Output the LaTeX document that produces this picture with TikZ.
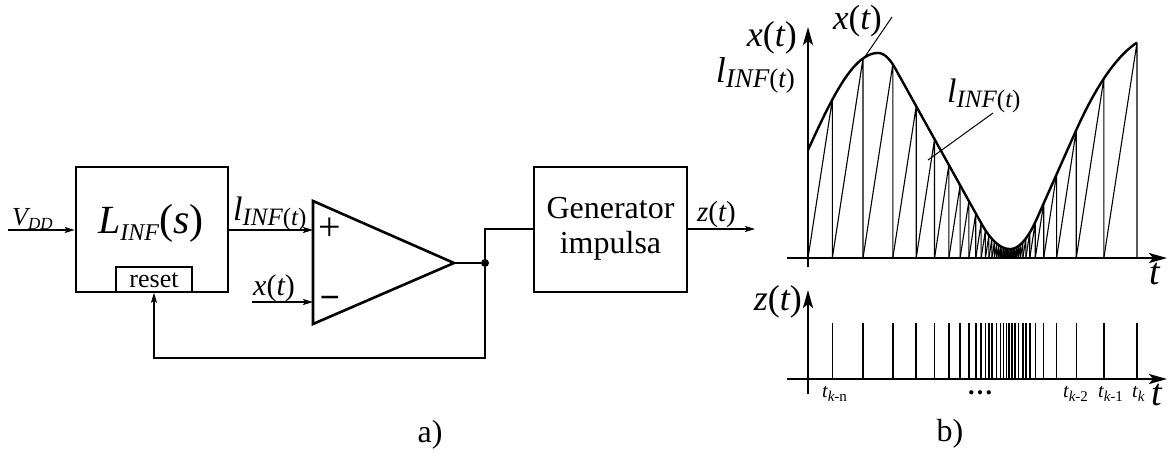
\documentclass[tikz,border=0pt]{standalone}
\usepackage{fontspec}
\setmainfont{Liberation Serif}
\usetikzlibrary{arrows.meta}
\newcommand\fs[1]{\fontsize{#1pt}{#1pt}\selectfont}
\newcommand\lINFlab[3]{{\fs{#1}\itshape l}\raisebox{-#3pt}{\fs{#2}\itshape INF\upshape(\itshape t\upshape)}}
\newcommand\fnlab[3]{{\fs{#1}\itshape #3\upshape(\itshape t\upshape)}}
\newcommand\tick[2]{{\fs{20}\itshape t}\raisebox{-4pt}{\fs{15}#1}}
\pgfmathdeclarefunction{hx}{1}{%
  \begingroup
  \pgfmathparse{#1}\let\hxt\pgfmathresult
  \ifdim\hxt pt<878pt
    \pgfmathparse{108+97*cos(90*(878-\hxt)/70)}%
  \else\ifdim\hxt pt<895.3pt
    \pgfmathparse{205-0.052*(\hxt-878)*(\hxt-878)}%
  \else\ifdim\hxt pt<981.1pt
    \pgfmathparse{73+1.8*(960-\hxt)}%
  \else\ifdim\hxt pt<1010pt
    \pgfmathparse{9+0.0311*(1010-\hxt)*(1010-\hxt)}%
  \else\ifdim\hxt pt<1036.8pt
    \pgfmathparse{9+0.042*(\hxt-1010)*(\hxt-1010)}%
  \else\ifdim\hxt pt<1075pt
    \pgfmathparse{39.2+2.25*(\hxt-1036.8)}%
  \else
    \pgfmathparse{125.15+2.25*(\hxt-1075)-0.0128*(\hxt-1075)*(\hxt-1075)}%
  \fi\fi\fi\fi\fi\fi
  \pgfmathsmuggle\pgfmathresult
  \endgroup}
\begin{document}
\begin{tikzpicture}[x=1pt,y=-1pt,
  blk/.style={draw,line width=2.6pt,inner sep=0pt},
  conn/.style={line width=1.4pt},
  arr/.style={conn,-{Stealth[length=10pt,width=6pt,inset=2pt]}},
  axisarr/.style={line width=2.4pt,-{Stealth[length=18pt,width=10pt,inset=4pt]}},
  curve/.style={line width=2.4pt,line join=round},
  saw/.style={line width=1.1pt},
  pulse/.style={line width=1.5pt},
  lead/.style={line width=1pt},
  lbl/.style={inner sep=0pt}]
\useasboundingbox (0,0) rectangle (1171,455);
% ---------------- block diagram a)
\node[blk,minimum width=152pt,minimum height=125pt] (L) at (152,229.5) {};
\node[lbl,anchor=base west] (Ltxt) at (98,233) {{\fs{40}\itshape L}\raisebox{-7pt}{\fs{24}\itshape INF}{\fs{42}(\itshape s\upshape)}};
\node[draw,line width=1.6pt,minimum width=76pt,minimum height=25pt,inner sep=0pt] (reset) at (154,279.5) {};
\node[lbl,anchor=base] (resettxt) at (154,287) {\fs{26}reset};
\coordinate (vin) at (8,230);
\node[lbl,anchor=base west] (vdd) at (12,225) {{\fs{26}\itshape V}\raisebox{-4pt}{\fs{17}\itshape DD}};
\draw[arr] (vin) -- (vin -| L.west);
% comparator
\coordinate (cp) at (313,230);
\coordinate (cm) at (313,302);
\coordinate (tip) at (454,263);
\draw[line width=2.6pt,line join=miter] (313,201) -- (tip) -- (313,324) -- cycle;
\node[lbl] (plus) at (330,229) {\fs{40}+};
\node[lbl] (minus) at (330,303) {\fs{36}\bfseries\symbol{"2212}};
\draw[arr] (L.east |- cp) -- (cp);
\node[lbl,anchor=base west] (ltop) at (233,220) {\lINFlab{34}{25}{5}};
\coordinate (xin) at (252,302);
\draw[arr] (xin) -- (cm);
\node[lbl,anchor=base west] (xlab) at (253,295) {\fnlab{30}{}{x}};
% junction
\node[circle,fill,inner sep=0pt,minimum size=8pt] (dot) at (485,263) {};
\node[blk,minimum width=153pt,minimum height=125pt] (G) at (610.5,229.5) {};
\node[lbl,anchor=base] (g1) at (610.5,218) {\fs{32}Generator};
\node[lbl,anchor=base] (g2) at (610.5,253) {\fs{32}impulsa};
\draw[conn] (tip) -- (dot);
\draw[conn] (dot) |- (G.west |- 0,229);
\coordinate (zout) at (755,229);
\draw[arr] (G.east |- zout) -- (zout);
\node[lbl,anchor=base west] (zlab) at (697,221) {\fnlab{29}{}{z}};
\draw[arr] (dot) -- (485,358) -| (reset.south);
\node[lbl,anchor=base] (alab) at (430,442) {\fs{32}a)};
% ---------------- plots b)
\draw[axisarr] (787,258) -- (1167,258);
\draw[axisarr] (808,267) -- (808,27);
\draw[axisarr] (787,379) -- (1167,379);
\draw[axisarr] (808,394) -- (808,290);
\draw[curve] plot[domain=808:1137,samples=330] (\x,{258-hx(\x)});
% forward teeth from the origin
\def\tp{808}
\def\lastpulse{0}
\loop
  \pgfmathsetmacro\tn{\tp+hx(\tp)/6.5}
  \pgfmathsetmacro\tn{\tp+hx(\tn)/6.5}
  \pgfmathsetmacro\tn{\tp+hx(\tn)/6.5}
  \pgfmathsetmacro\tn{\tp+hx(\tn)/6.5}
  \pgfmathsetmacro\tn{\tp+hx(\tn)/6.5}
  \ifdim\tn pt<1006pt
    \pgfmathsetmacro\hn{hx(\tn)}
    \draw[saw] (\tp,258) -- (\tn,{258-\hn}) -- (\tn,258);
    \pgfmathsetmacro\gap{\tn-\lastpulse}
    \ifdim\gap pt>2.6pt
      \draw[pulse] (\tn,379) -- (\tn,323);
      \global\let\lastpulse\tn
    \fi
    \global\let\tp\tn
    \gdef\cont{1}%
  \else
    \gdef\cont{0}%
  \fi
\ifnum\cont=1 \repeat
\let\tm\tp
% backward teeth from the end
\def\tk{1137}
\def\lastpulse{2000}
\loop
  \pgfmathsetmacro\hk{hx(\tk)}
  \pgfmathsetmacro\tb{\tk-\hk/6.5}
  \ifdim\tb pt<\tm pt \global\let\tb\tm\fi
  \draw[saw] (\tb,258) -- (\tk,{258-\hk}) -- (\tk,258);
  \pgfmathsetmacro\gap{\lastpulse-\tk}
  \ifdim\gap pt>2.6pt
    \draw[pulse] (\tk,379) -- (\tk,323);
    \global\let\lastpulse\tk
  \fi
  \global\let\tk\tb
  \pgfmathsetmacro\rest{\tk-\tm}
\ifdim\rest pt>0.3pt \repeat
% labels
\node[lbl,anchor=base east] (ylx) at (797,46) {\fnlab{36}{}{x}};
\node[lbl,anchor=base east] (yll) at (795,82) {\lINFlab{36}{27}{5}};
\node[lbl,anchor=base west] (xin2) at (833,30) {\fnlab{35}{}{x}};
\coordinate (xl1) at (892,17);
\coordinate (xl2) at (862,61);
\draw[lead] (xl1) -- (xl2);
\node[lbl,anchor=base west] (lin2) at (947,102) {\lINFlab{34}{25}{5}};
\coordinate (ll1) at (993,113);
\coordinate (ll2) at (928,160);
\draw[lead] (ll1) -- (ll2);
\node[lbl,anchor=base east] (zly) at (802,310) {\fnlab{36}{}{z}};
\node[lbl,anchor=base] (t1) at (1155,284) {\fs{38}\itshape t};
\node[lbl,anchor=base] (t2) at (1157,405) {\fs{38}\itshape t};
\node[lbl,anchor=base west] (tkn) at (822,397) {\tick{\itshape k\upshape -n}{}};
\node[lbl,anchor=base] (dots) at (980,394) {\fs{26}\bfseries …};
\node[lbl,anchor=base west] (tk2) at (1063,397) {\tick{\itshape k\upshape -2}{}};
\node[lbl,anchor=base west] (tk1) at (1098,397) {\tick{\itshape k\upshape -1}{}};
\node[lbl,anchor=base west] (tk0) at (1132,397) {\tick{\itshape k}{}};
\node[lbl,anchor=base] (blab) at (950,441) {\fs{32}b)};
\end{tikzpicture}
\end{document}
